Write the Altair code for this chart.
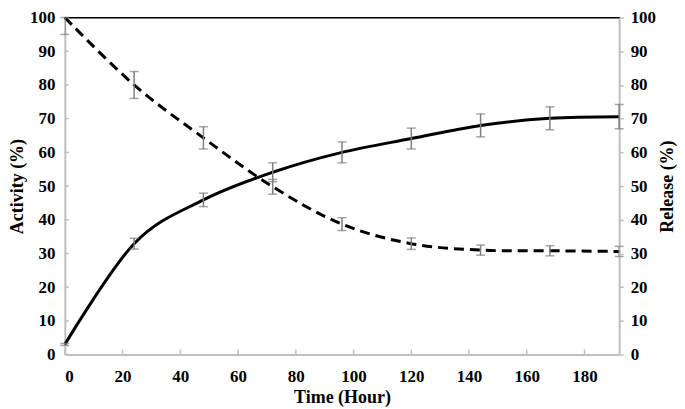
import altair as alt
import pandas as pd

hours = [0, 24, 48, 72, 96, 120, 144, 168, 192]
activity = [100, 80.0, 64.3, 49.8, 38.7, 32.9, 31.0, 30.8, 30.6]
activity_err = [5.0, 4.0, 3.3, 2.2, 1.9, 1.7, 1.5, 1.5, 1.5]
release = [3.0, 32.9, 45.9, 54.1, 60.0, 64.1, 68.0, 70.1, 70.6]
release_err = [0.3, 1.6, 2.0, 2.8, 3.1, 3.1, 3.4, 3.4, 3.6]
x_ticks = [0, 20, 40, 60, 80, 100, 120, 140, 160, 180]
y_ticks = [0, 10, 20, 30, 40, 50, 60, 70, 80, 90, 100]

df = pd.DataFrame({
    "hour": hours,
    "activity": activity,
    "a_lo": [v - e for v, e in zip(activity, activity_err)],
    "a_hi": [min(100, v + e) for v, e in zip(activity, activity_err)],
    "release": release,
    "r_lo": [v - e for v, e in zip(release, release_err)],
    "r_hi": [v + e for v, e in zip(release, release_err)],
})
xt = pd.DataFrame({"t": x_ticks})
yt = pd.DataFrame({"t": y_ticks})

FONT = "Liberation Serif"
AX = "#bfbfbf"
ERR = "#7f7f7f"
W, H = 556, 338
LFS, TFS = 17, 18

xscale = alt.Scale(domain=[0, 192], nice=False, zero=False)
yscale = alt.Scale(domain=[0, 100], nice=False)

common = dict(domainColor=AX, domainWidth=2, grid=False, labelFont=FONT,
              labelFontSize=LFS, labelFontWeight="bold", labelColor="black",
              titleFont=FONT, titleFontSize=TFS, titleFontWeight="bold",
              titleColor="black")

xaxis = alt.Axis(values=x_ticks, title="Time (Hour)", ticks=False, labelPadding=14,
                 titlePadding=4, **common)
left_axis = alt.Axis(values=y_ticks, title="Activity (%)", ticks=False, labelPadding=10,
                     titlePadding=3, **common)
right_axis = alt.Axis(values=y_ticks, title="Release (%)", orient="right", tickSize=4,
                      tickColor=AX, tickWidth=1.5, labelPadding=7, titlePadding=3,
                      titleAngle=270, titleBaseline="top", **common)

X = alt.X("hour:Q", scale=xscale, axis=xaxis)

base = alt.Chart(df)
cap = dict(orient="horizontal", size=9, thickness=1.5)

# left group: activity (dashed)
a_line = base.mark_line(color="black", strokeWidth=3, strokeDash=[10, 6],
                        interpolate="cardinal").encode(
    x=X, y=alt.Y("activity:Q", scale=yscale, axis=left_axis))
a_rule = base.mark_rule(color=ERR, strokeWidth=1.5, clip=True).encode(
    x=X, y=alt.Y("a_lo:Q", scale=yscale, axis=left_axis), y2="a_hi:Q")
a_cap_lo = base.mark_tick(color=ERR, **cap).encode(
    x=X, y=alt.Y("a_lo:Q", scale=yscale, axis=left_axis))
a_cap_hi = base.mark_tick(color=ERR, **cap).encode(
    x=X, y=alt.Y("a_hi:Q", scale=yscale, axis=left_axis))
top_line = alt.Chart(yt).mark_rule(color="black", strokeWidth=1).encode(
    y=alt.Y(datum=100, scale=yscale, axis=left_axis), x=alt.value(0), x2=alt.value(W))
xtick_marks = alt.Chart(xt).mark_rule(color=AX, strokeWidth=1.5).encode(
    x=alt.X("t:Q", scale=xscale, axis=xaxis), y=alt.value(H), y2=alt.value(H - 5))
ytick_marks = alt.Chart(yt).mark_rule(color=AX, strokeWidth=1.5).encode(
    y=alt.Y("t:Q", scale=yscale, axis=left_axis), x=alt.value(0), x2=alt.value(4))

left = alt.layer(a_line, xtick_marks, ytick_marks, top_line, a_rule, a_cap_lo, a_cap_hi)

# right group: release (solid)
r_line = base.mark_line(color="black", strokeWidth=3, interpolate="cardinal").encode(
    x=X, y=alt.Y("release:Q", scale=yscale, axis=right_axis))
r_rule = base.mark_rule(color=ERR, strokeWidth=1.5).encode(
    x=X, y=alt.Y("r_lo:Q", scale=yscale, axis=right_axis), y2="r_hi:Q")
r_cap_lo = base.mark_tick(color=ERR, **cap).encode(
    x=X, y=alt.Y("r_lo:Q", scale=yscale, axis=right_axis))
r_cap_hi = base.mark_tick(color=ERR, **cap).encode(
    x=X, y=alt.Y("r_hi:Q", scale=yscale, axis=right_axis))

right = alt.layer(r_line, r_rule, r_cap_lo, r_cap_hi)

chart = alt.layer(left, right).resolve_scale(y="independent").properties(
    width=W, height=H, padding={"left": 0, "top": 0, "right": 0, "bottom": 0},
    background="white"
).configure_view(stroke=None)

chart.save("out.html", embed_options={"renderer": "svg", "actions": False})
